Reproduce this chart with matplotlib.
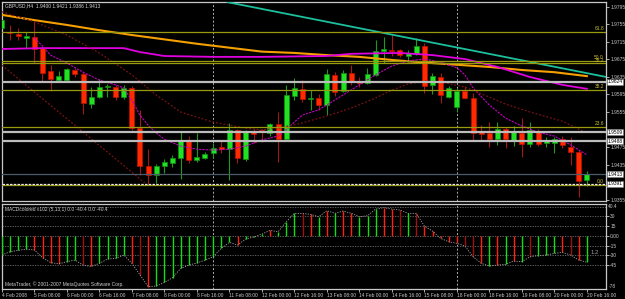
import matplotlib
matplotlib.use("Agg")
import matplotlib.pyplot as plt
from matplotlib import font_manager
import numpy as np

# MT4 uses a narrow pixel font; take the narrow Liberation face if present
try:
    font_manager.findfont('Liberation Sans Narrow', fallback_to_default=False)
    fam, fs = 'Liberation Sans Narrow', 4.1
except ValueError:
    fam, fs = 'Liberation Sans', 3.5
plt.rcParams['font.family'] = [fam, 'DejaVu Sans']

# GBPUSD H4 candles, 4 Feb 16:00 .. 20 Feb 16:00
opens = [1.9747, 1.9738, 1.9733, 1.9725, 1.9726, 1.9701, 1.9649, 1.9628, 1.9628, 1.9651,
         1.9642, 1.9573, 1.9589, 1.9612, 1.9612, 1.9589, 1.9610, 1.9518, 1.9432, 1.9411,
         1.9432, 1.9438, 1.9450, 1.9491, 1.9445, 1.9450, 1.9461, 1.9475, 1.9470, 1.9514,
         1.9448, 1.9509, 1.9514, 1.9507, 1.9527, 1.9493, 1.9592, 1.9607, 1.9585, 1.9587,
         1.9571, 1.9640, 1.9603, 1.9644, 1.9624, 1.9621, 1.9640, 1.9694, 1.9697, 1.9697,
         1.9683, 1.9688, 1.9706, 1.9617, 1.9635, 1.9589, 1.9566, 1.9603, 1.9587, 1.9509,
         1.9507, 1.9493, 1.9516, 1.9491, 1.9507, 1.9482, 1.9512, 1.9484, 1.9484, 1.9493,
         1.9475, 1.9464, 1.9400]
highs = [1.9774, 1.9754, 1.9747, 1.9738, 1.9765, 1.9704, 1.9662, 1.9649, 1.9656, 1.9656,
         1.9646, 1.9612, 1.9630, 1.9619, 1.9617, 1.9617, 1.9614, 1.9560, 1.9470, 1.9436,
         1.9448, 1.9457, 1.9509, 1.9500, 1.9507, 1.9464, 1.9484, 1.9491, 1.9530, 1.9516,
         1.9514, 1.9516, 1.9516, 1.9530, 1.9555, 1.9617, 1.9633, 1.9628, 1.9605, 1.9596,
         1.9653, 1.9646, 1.9651, 1.9662, 1.9635, 1.9656, 1.9720, 1.9726, 1.9731, 1.9699,
         1.9697, 1.9724, 1.9713, 1.9644, 1.9644, 1.9614, 1.9610, 1.9614, 1.9598, 1.9525,
         1.9532, 1.9532, 1.9521, 1.9523, 1.9541, 1.9532, 1.9516, 1.9498, 1.9498, 1.9500,
         1.9498, 1.9468, 1.9421]
lows = [1.9742, 1.9720, 1.9720, 1.9701, 1.9667, 1.9626, 1.9603, 1.9624, 1.9624, 1.9635,
        1.9550, 1.9564, 1.9587, 1.9589, 1.9582, 1.9585, 1.9514, 1.9411, 1.9390, 1.9393,
        1.9416, 1.9429, 1.9402, 1.9438, 1.9441, 1.9448, 1.9450, 1.9461, 1.9400, 1.9438,
        1.9443, 1.9484, 1.9486, 1.9500, 1.9441, 1.9489, 1.9582, 1.9578, 1.9560, 1.9560,
        1.9548, 1.9592, 1.9601, 1.9617, 1.9612, 1.9619, 1.9637, 1.9667, 1.9683, 1.9681,
        1.9669, 1.9685, 1.9598, 1.9596, 1.9575, 1.9587, 1.9555, 1.9585, 1.9491, 1.9491,
        1.9475, 1.9480, 1.9473, 1.9477, 1.9452, 1.9475, 1.9477, 1.9475, 1.9461, 1.9473,
        1.9434, 1.9361, 1.9386]
closes = [1.9765, 1.9736, 1.9729, 1.9729, 1.9699, 1.9644, 1.9630, 1.9637, 1.9653, 1.9642,
          1.9575, 1.9589, 1.9612, 1.9614, 1.9589, 1.9610, 1.9518, 1.9432, 1.9411, 1.9432,
          1.9441, 1.9450, 1.9489, 1.9445, 1.9452, 1.9459, 1.9473, 1.9470, 1.9514, 1.9450,
          1.9509, 1.9505, 1.9509, 1.9527, 1.9493, 1.9594, 1.9610, 1.9585, 1.9587, 1.9571,
          1.9642, 1.9601, 1.9644, 1.9624, 1.9621, 1.9642, 1.9694, 1.9699, 1.9694, 1.9685,
          1.9690, 1.9706, 1.9614, 1.9637, 1.9594, 1.9610, 1.9603, 1.9587, 1.9507, 1.9505,
          1.9493, 1.9516, 1.9493, 1.9509, 1.9482, 1.9514, 1.9482, 1.9489, 1.9493, 1.9480,
          1.9464, 1.9397, 1.9413]

# moving averages read at selected bars
orange_idx = [0, 4, 8, 12, 16, 20, 24, 28, 32, 36, 40, 44, 48, 52, 56, 60, 64, 68, 72]
orange_val = [1.9777, 1.9765, 1.9754, 1.9742, 1.9731, 1.9721, 1.9711, 1.9702, 1.9693, 1.9690,
              1.9685, 1.9681, 1.9674, 1.9668, 1.9663, 1.9658, 1.9651, 1.9646, 1.9637]
magenta_idx = [0, 5, 15, 17, 20, 26, 32, 40, 43, 49, 53, 57, 61, 65, 69, 72]
magenta_val = [1.9699, 1.9701, 1.9701, 1.9692, 1.9683, 1.9681, 1.9681, 1.9683, 1.9688, 1.9690,
               1.9685, 1.9676, 1.9658, 1.9635, 1.9617, 1.9608]
fast_idx = [4, 5, 6, 8, 10, 12, 14, 15, 16, 17, 18, 19, 20, 22, 24, 26, 28, 30, 32, 34, 35, 36,
            37, 39, 40, 42, 44, 46, 48, 50, 52, 54, 56, 57, 58, 60, 62, 64, 66, 68, 70, 72]
fast_val = [1.9724, 1.9706, 1.9685, 1.9667, 1.9646, 1.9628, 1.9617, 1.9610, 1.9582, 1.9548,
            1.9525, 1.9507, 1.9493, 1.9477, 1.9470, 1.9468, 1.9470, 1.9477, 1.9491, 1.9500,
            1.9514, 1.9532, 1.9548, 1.9560, 1.9571, 1.9594, 1.9617, 1.9640, 1.9660, 1.9672,
            1.9676, 1.9669, 1.9656, 1.9640, 1.9610, 1.9571, 1.9541, 1.9523, 1.9509, 1.9500,
            1.9480, 1.9457]
slow_idx = [0, 4, 8, 12, 16, 19, 22, 26, 30, 32, 34, 37, 40, 43, 46, 48, 50, 52, 54, 57, 60,
            62, 65, 69, 72]
slow_val = [1.9784, 1.9761, 1.9731, 1.9690, 1.9640, 1.9594, 1.9555, 1.9532, 1.9518, 1.9514,
            1.9518, 1.9530, 1.9546, 1.9564, 1.9587, 1.9605, 1.9619, 1.9626, 1.9624, 1.9612,
            1.9589, 1.9573, 1.9555, 1.9534, 1.9507]

# drawn objects
cyan_idx = [27.8, 74.4]
cyan_val = [1.9806, 1.9635]
chan_idx = [0.0, 17.6]
chan_val = [1.9662, 1.9393]
fib_levels = [1.9738, 1.9672, 1.9667, 1.9605, 1.9521, 1.9388]
fib_names = ["61.8", "50.0", "38.2", "38.2", "23.6", "0.0"]
grey_levels = [1.9624, 1.9509, 1.9488]
dash_level = 1.9391
bid = 1.9413
separators = [26, 56]

# 1.9515 and 1.9395 sit under the price boxes, so they are not shown
price_ticks = [1.9795, 1.9755, 1.9715, 1.9675, 1.9635, 1.9595, 1.9555, 1.9475,
               1.9435, 1.9355]

macd = [-29.5, -24.4, -22.4, -20.4, -21.9, -33.6, -41.2, -42.8, -39.7, -37.2,
        -45.3, -46.8, -42.2, -35.6, -34.6, -29.5, -42.2, -60.1, -77.9, -76.9,
        -71.3, -64.1, -49.9, -44.8, -41.7, -37.2, -32.1, -19.3, -10.2, -14.3,
        -5.1, -2.0, 2.5, 8.1, 6.1, 21.4, 34.1, 34.1, 32.6, 29.0,
        38.2, 34.1, 37.7, 34.1, 29.0, 30.5, 40.7, 42.8, 40.7, 39.2,
        34.1, 34.1, 14.8, 7.1, -4.1, -9.2, -11.7, -15.8, -32.1, -42.2,
        -46.3, -44.8, -43.8, -38.7, -39.7, -32.1, -30.5, -29.5, -27.0, -25.5,
        -29.5, -37.2, -40.4]
macd_col = "ggggrrrrggdrggggrdrggggggggggrgggrgggdrgrgrrgggrrdgdrrrrrddrgrgrgdgggrdr"
macd_ticks = [30, 15, 0, -15, -30, -45]
macd_tick_labels = ["30", "15", "0.00", "-15", "-30", "-45"]

time_idx = list(range(0, 73, 4))
time_labels = ["4 Feb 2008", "5 Feb 08:00", "6 Feb 00:00", "6 Feb 16:00", "7 Feb 08:00",
               "8 Feb 00:00", "8 Feb 16:00", "11 Feb 08:00", "12 Feb 00:00", "12 Feb 16:00",
               "13 Feb 08:00", "14 Feb 00:00", "14 Feb 16:00", "15 Feb 08:00", "18 Feb 00:00",
               "18 Feb 16:00", "19 Feb 08:00", "20 Feb 00:00", "20 Feb 16:00"]

o = np.array(opens); h = np.array(highs); l = np.array(lows); c = np.array(closes)
n = len(c)
x = np.arange(n)
up = c >= o

fig = plt.figure(figsize=(6.25, 2.99), dpi=100, facecolor='black')
ax = fig.add_axes([2 / 625, 1 - 201 / 299, 604 / 625, 199 / 299], facecolor='black')
ax2 = fig.add_axes([2 / 625, 1 - 289 / 299, 604 / 625, 85.5 / 299], facecolor='black')

for a in (ax, ax2):
    a.set_xlim(0.025, 74.36)
    for s in a.spines.values():
        s.set_color('#c8c8c8')
        s.set_linewidth(0.9)
    for sep in separators:
        a.axvline(sep, color='#b0b0b0', lw=0.7, ls=(0, (2, 2)), zorder=1)

ax.set_ylim(1.93516, 1.98064)

# candles
ax.vlines(x[up], l[up], h[up], color='#1e9a1e', lw=0.8, zorder=2)
ax.vlines(x[~up], l[~up], h[~up], color='#a01818', lw=0.8, zorder=2)
body_lo = np.minimum(o, c)
body_h = np.maximum(np.abs(c - o), 0.00025)
ax.bar(x[up], body_h[up], bottom=body_lo[up], width=0.62, color='#22e022',
       edgecolor='#139013', lw=0.5, zorder=3)
ax.bar(x[~up], body_h[~up], bottom=body_lo[~up], width=0.62, color='#ff2a00',
       edgecolor='#c01000', lw=0.5, zorder=3)

# indicators and objects
ax.plot(orange_idx, orange_val, color='#f5a000', lw=1.5, zorder=4)
ax.plot(magenta_idx, magenta_val, color='#e000e0', lw=1.3, zorder=4)
ax.plot(fast_idx, fast_val, color='#c000c0', lw=0.8, ls=(0, (2, 1)), zorder=4)
ax.plot(slow_idx, slow_val, color='#7a1212', lw=0.9, ls=(0, (1.5, 1.5)), zorder=4)
ax.plot(chan_idx, chan_val, color='#7a1212', lw=0.9, ls=(0, (1.5, 1.5)), zorder=4)
ax.plot(cyan_idx, cyan_val, color='#1cc09c', lw=1.3, zorder=4)

for lv in fib_levels:
    ax.axhline(lv, color='#9a9a10', lw=0.9, zorder=4)
for i, (lv, nm) in enumerate(zip(fib_levels, fib_names)):
    off = 0.0001 if i == 2 else 0.0002
    ax.text(74.1, lv + off, nm, color='#c8c030', fontsize=fs, ha='right', va='bottom', zorder=6)

for lv in grey_levels:
    ax.axhline(lv, color='#bcbcbc', lw=1.6, zorder=5)
ax.axhline(dash_level, color='#e8e8e8', lw=0.9, ls=(0, (2, 1)), zorder=5)
ax.axhline(bid, color='#4a5c6c', lw=0.9, zorder=5)

ax.yaxis.tick_right()
ax.set_yticks(price_ticks)
ax.set_yticklabels(["%.4f" % p for p in price_ticks])
ax.tick_params(axis='y', colors='#c8c8c8', labelsize=fs, length=2, width=0.6, pad=1.0)
ax.set_xticks([])

for lv in grey_levels + [bid, dash_level]:
    ax.text(1.003, lv, "%.4f" % lv, transform=ax.get_yaxis_transform(), fontsize=fs,
            color='black', va='center', ha='left', zorder=10, clip_on=False,
            bbox=dict(boxstyle='square,pad=0.1', fc='white', ec='#808080', lw=0.4))

ax.text(0.005, 0.995, "GBPUSD,H4  %.4f %.4f %.4f %.4f" % (opens[-1], highs[-1], lows[-1], closes[-1]),
        transform=ax.transAxes, color='#d8d8d8', fontsize=fs, va='top', ha='left', zorder=10)

# MACD window
ax2.set_ylim(-81.4, 49.2)
for t in macd_ticks + [44.6]:
    ax2.axhline(t, color='#707070', lw=0.6, ls=(0, (1.5, 1.5)), zorder=1)
cmap = {'g': '#10e010', 'r': '#ff2010', 'd': '#a01010'}
ax2.vlines(x, 0, macd, colors=[cmap[k] for k in macd_col], lw=1.0, zorder=3)
ax2.plot(x, macd, color='#a0a0a0', lw=0.6, ls=(0, (1.5, 1.5)), zorder=4)

ax2.yaxis.tick_right()
ax2.set_yticks(macd_ticks)
ax2.set_yticklabels(macd_tick_labels)
ax2.tick_params(axis='y', colors='#c8c8c8', labelsize=fs, length=2, width=0.6, pad=1.0)
ax2.text(1.004, 44.6, "40.4", transform=ax2.get_yaxis_transform(), fontsize=fs,
         color='#c8c8c8', va='center', ha='left', clip_on=False)
ax2.text(1.004, -77.4, "-78", transform=ax2.get_yaxis_transform(), fontsize=fs,
         color='#c8c8c8', va='center', ha='left', clip_on=False)
ax2.text(72.5, -25, "1.2", color='#a0a0a0', fontsize=fs + 0.8, va='center', ha='left')

ax2.set_xticks(time_idx)
ax2.set_xticklabels(time_labels, ha='left')
ax2.tick_params(axis='x', colors='#c8c8c8', labelsize=fs, length=2, width=0.6, pad=1.2)

ax2.text(0.005, 0.96, "MACDcolored v102 (5,13,1) 0.0 -40.4 0.0 -40.4", transform=ax2.transAxes,
         color='#d0d0d0', fontsize=fs, va='top', ha='left')
ax2.text(0.005, 0.02, "MetaTrader, \u00a9 2001-2007 MetaQuotes Software Corp.", transform=ax2.transAxes,
         color='#d0d0d0', fontsize=fs, va='bottom', ha='left')

fig.savefig("out.png", dpi=100, facecolor='black')
